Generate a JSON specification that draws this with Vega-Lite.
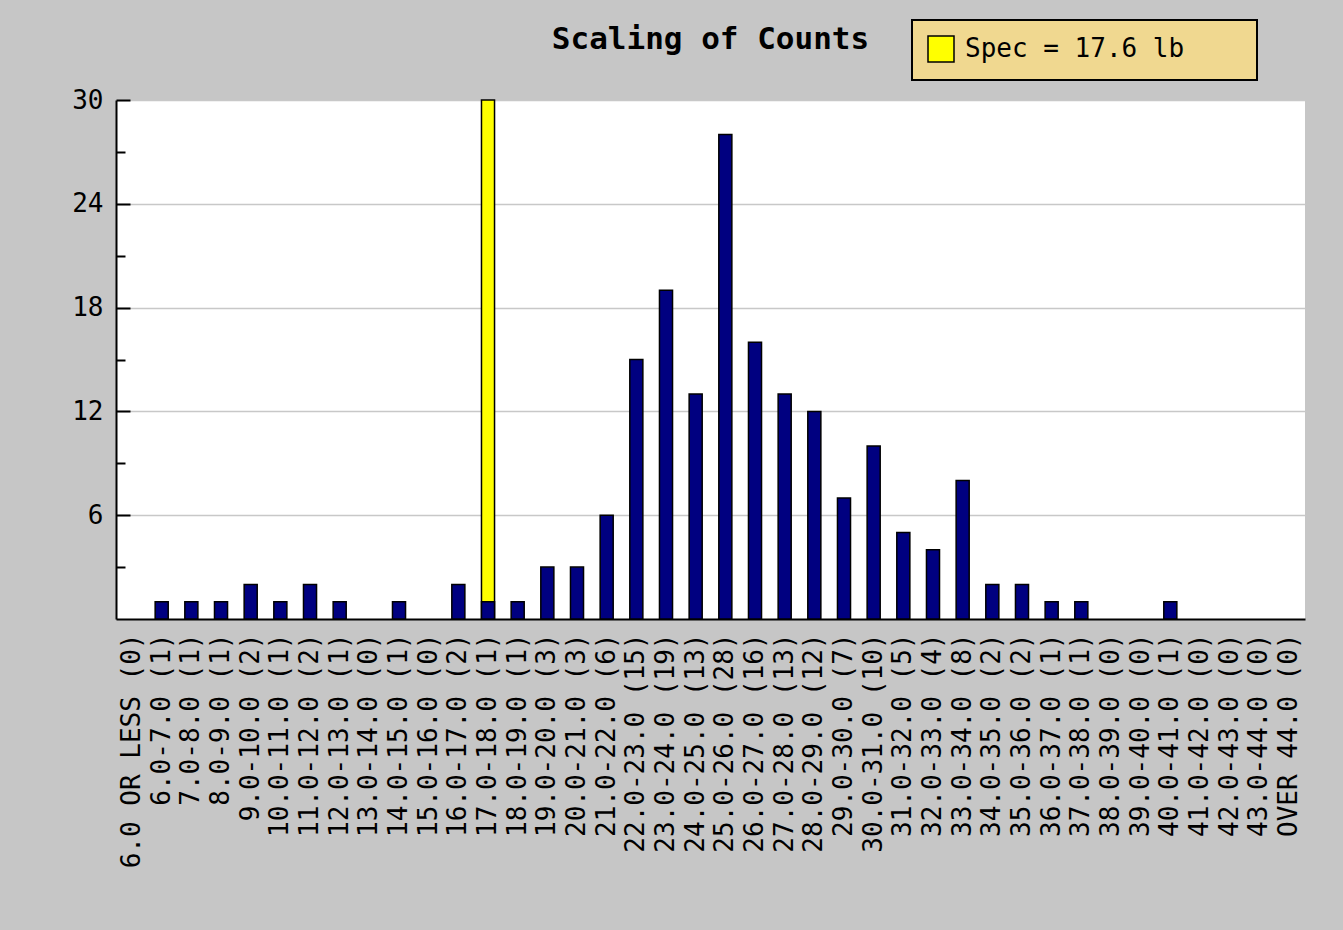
{
  "$schema": "https://vega.github.io/schema/vega-lite/v6.json",
  "width": 1189,
  "height": 519,
  "autosize": {"type": "none"},
  "padding": {"left": 116, "top": 100, "right": 38, "bottom": 311},
  "background": "#c6c6c6",
  "title": {"text": "Scaling of Counts", "font": "DejaVu Sans Mono", "fontSize": 31, "fontWeight": "bold", "color": "#000000", "anchor": "middle", "offset": -37},
  "datasets": {
    "counts": [
      {"bin": "6.0 OR LESS (0)", "count": 0},
      {"bin": "6.0-7.0 (1)", "count": 1},
      {"bin": "7.0-8.0 (1)", "count": 1},
      {"bin": "8.0-9.0 (1)", "count": 1},
      {"bin": "9.0-10.0 (2)", "count": 2},
      {"bin": "10.0-11.0 (1)", "count": 1},
      {"bin": "11.0-12.0 (2)", "count": 2},
      {"bin": "12.0-13.0 (1)", "count": 1},
      {"bin": "13.0-14.0 (0)", "count": 0},
      {"bin": "14.0-15.0 (1)", "count": 1},
      {"bin": "15.0-16.0 (0)", "count": 0},
      {"bin": "16.0-17.0 (2)", "count": 2},
      {"bin": "17.0-18.0 (1)", "count": 1},
      {"bin": "18.0-19.0 (1)", "count": 1},
      {"bin": "19.0-20.0 (3)", "count": 3},
      {"bin": "20.0-21.0 (3)", "count": 3},
      {"bin": "21.0-22.0 (6)", "count": 6},
      {"bin": "22.0-23.0 (15)", "count": 15},
      {"bin": "23.0-24.0 (19)", "count": 19},
      {"bin": "24.0-25.0 (13)", "count": 13},
      {"bin": "25.0-26.0 (28)", "count": 28},
      {"bin": "26.0-27.0 (16)", "count": 16},
      {"bin": "27.0-28.0 (13)", "count": 13},
      {"bin": "28.0-29.0 (12)", "count": 12},
      {"bin": "29.0-30.0 (7)", "count": 7},
      {"bin": "30.0-31.0 (10)", "count": 10},
      {"bin": "31.0-32.0 (5)", "count": 5},
      {"bin": "32.0-33.0 (4)", "count": 4},
      {"bin": "33.0-34.0 (8)", "count": 8},
      {"bin": "34.0-35.0 (2)", "count": 2},
      {"bin": "35.0-36.0 (2)", "count": 2},
      {"bin": "36.0-37.0 (1)", "count": 1},
      {"bin": "37.0-38.0 (1)", "count": 1},
      {"bin": "38.0-39.0 (0)", "count": 0},
      {"bin": "39.0-40.0 (0)", "count": 0},
      {"bin": "40.0-41.0 (1)", "count": 1},
      {"bin": "41.0-42.0 (0)", "count": 0},
      {"bin": "42.0-43.0 (0)", "count": 0},
      {"bin": "43.0-44.0 (0)", "count": 0},
      {"bin": "OVER 44.0 (0)", "count": 0}
    ],
    "spec": [
      {"bin": "17.0-18.0 (1)", "value": 30, "series": "Spec = 17.6 lb"}
    ]
  },
  "layer": [
    {
      "data": {"name": "spec"},
      "mark": {"type": "bar", "stroke": "#000000", "strokeWidth": 1.5},
      "encoding": {
        "x": {
          "field": "bin", "type": "nominal",
          "scale": {
            "domain": ["6.0 OR LESS (0)", "6.0-7.0 (1)", "7.0-8.0 (1)", "8.0-9.0 (1)", "9.0-10.0 (2)", "10.0-11.0 (1)", "11.0-12.0 (2)", "12.0-13.0 (1)", "13.0-14.0 (0)", "14.0-15.0 (1)", "15.0-16.0 (0)", "16.0-17.0 (2)", "17.0-18.0 (1)", "18.0-19.0 (1)", "19.0-20.0 (3)", "20.0-21.0 (3)", "21.0-22.0 (6)", "22.0-23.0 (15)", "23.0-24.0 (19)", "24.0-25.0 (13)", "25.0-26.0 (28)", "26.0-27.0 (16)", "27.0-28.0 (13)", "28.0-29.0 (12)", "29.0-30.0 (7)", "30.0-31.0 (10)", "31.0-32.0 (5)", "32.0-33.0 (4)", "33.0-34.0 (8)", "34.0-35.0 (2)", "35.0-36.0 (2)", "36.0-37.0 (1)", "37.0-38.0 (1)", "38.0-39.0 (0)", "39.0-40.0 (0)", "40.0-41.0 (1)", "41.0-42.0 (0)", "42.0-43.0 (0)", "43.0-44.0 (0)", "OVER 44.0 (0)"],
            "paddingInner": 0.56,
            "paddingOuter": 0.32
          },
          "axis": {
            "title": null, "labelAngle": -90, "ticks": false,
            "domainColor": "#000000", "domainWidth": 2,
            "labelFont": "DejaVu Sans Mono", "labelFontSize": 26, "labelColor": "#000000",
            "labelPadding": 14, "labelLimit": 400, "labelOverlap": false
          }
        },
        "y": {
          "field": "value", "type": "quantitative",
          "scale": {"domain": [0, 30], "nice": false},
          "axis": {
            "orient": "left", "title": null, "values": [6, 12, 18, 24, 30],
            "tickSize": -14, "tickWidth": 2, "tickColor": "#000000",
            "domainColor": "#000000", "domainWidth": 2,
            "grid": true, "gridColor": "#c8c8c8", "gridWidth": 1.5,
            "labelFont": "DejaVu Sans Mono", "labelFontSize": 26, "labelColor": "#000000",
            "labelPadding": 27
          }
        },
        "color": {
          "field": "series", "type": "nominal",
          "scale": {"range": ["#ffff00"]},
          "legend": {
            "title": null, "orient": "none", "legendX": 796, "legendY": -80,
            "fillColor": "#f0d890", "strokeColor": "#000000", "padding": 15,
            "symbolType": "square", "symbolSize": 676,
            "symbolStrokeColor": "#000000", "symbolStrokeWidth": 1.5,
            "labelFont": "DejaVu Sans Mono", "labelFontSize": 26, "labelColor": "#000000",
            "labelOffset": 10, "labelLimit": 500, "labelExpr": "datum.label + '\u2800\u2800\u2800'"
          }
        }
      }
    },
    {
      "data": {"name": "counts"},
      "transform": [{"filter": "datum.count > 0"}],
      "mark": {"type": "bar", "fill": "#000080", "stroke": "#000000", "strokeWidth": 1.5},
      "encoding": {
        "x": {"field": "bin", "type": "nominal"},
        "y": {
          "field": "count", "type": "quantitative",
          "axis": {
            "orient": "left", "title": null, "values": [3, 9, 15, 21, 27],
            "labels": false, "grid": false, "domain": false,
            "tickSize": -9, "tickWidth": 2, "tickColor": "#000000"
          }
        }
      }
    }
  ],
  "resolve": {"axis": {"y": "independent"}},
  "config": {
    "view": {"fill": "#ffffff", "stroke": null},
    "legend": {"strokeWidth": 2, "cornerRadius": 0}
  }
}
